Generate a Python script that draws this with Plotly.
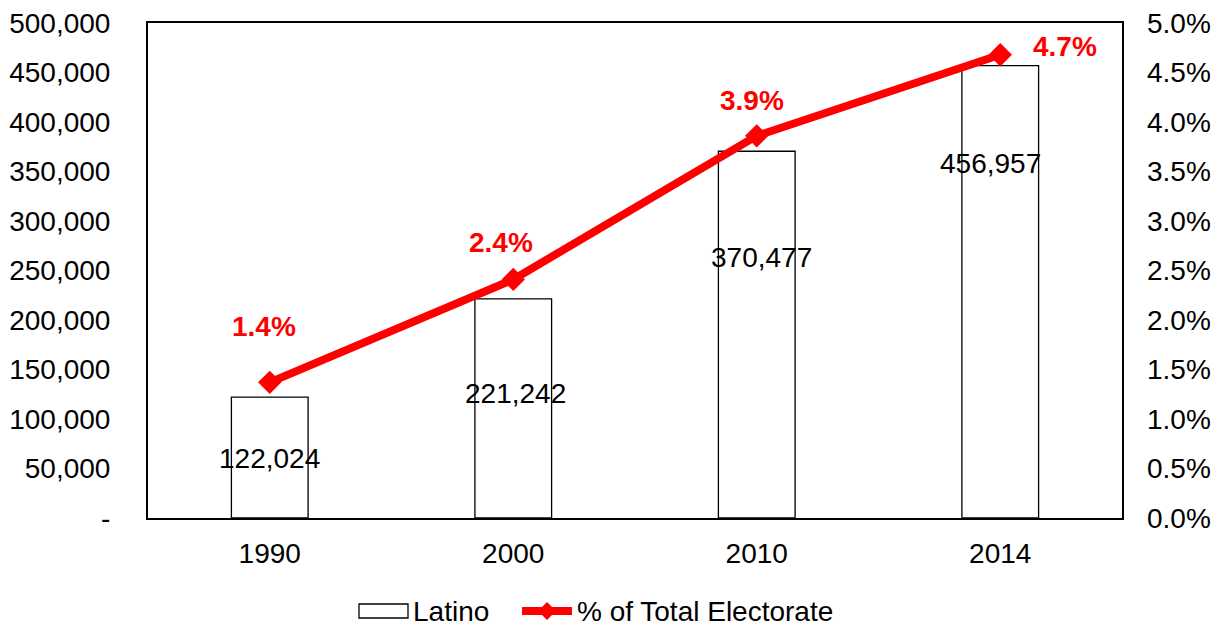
import plotly.graph_objects as go

years = ["1990", "2000", "2010", "2014"]
latino = [122024, 221242, 370477, 456957]
pct = [1.37, 2.41, 3.86, 4.68]
pct_labels = ["1.4%", "2.4%", "3.9%", "4.7%"]
bar_labels = ["122,024", "221,242", "370,477", "456,957"]
bar_label_y = [60500, 126000, 263000, 358000]
bar_label_dx = [0, 2, 5, -10]
pct_label_shift = [(-6, 56), (-12, 37), (-5, 35), (65, 8)]

FONT = "Liberation Sans, Arial, sans-serif"
W, H = 1225, 627
L, R, T, B = 148, W - 1122, 23, H - 518


def px(xp):
    return (xp - L) / (W - L - R)


def py(yp):
    return (H - B - yp) / (H - T - B)


fig = go.Figure()
fig.add_trace(go.Bar(
    x=years, y=latino, name="Latino",
    marker=dict(color="white", line=dict(color="black", width=1.3)),
    width=0.315, showlegend=False, hoverinfo="skip",
))
fig.add_trace(go.Scatter(
    x=years, y=pct, name="% of Total Electorate", yaxis="y2",
    mode="lines+markers",
    line=dict(color="#ff0000", width=8),
    marker=dict(symbol="diamond", size=18, color="#ff0000"),
    showlegend=False, hoverinfo="skip",
))

for i, (lab, ly, dx) in enumerate(zip(bar_labels, bar_label_y, bar_label_dx)):
    fig.add_annotation(x=i, y=ly, text=lab, showarrow=False, xshift=dx,
                       font=dict(size=28, color="black", family=FONT))
for i, (lab, v, (dx, dy)) in enumerate(zip(pct_labels, pct, pct_label_shift)):
    fig.add_annotation(x=i, y=v, yref="y2", text="<b>" + lab + "</b>", showarrow=False,
                       xshift=dx, yshift=dy,
                       font=dict(size=28, color="#ff0000", family=FONT))

# custom legend
ly = 611
fig.add_shape(type="rect", xref="paper", yref="paper",
              x0=px(359), x1=px(408), y0=py(604), y1=py(618),
              line=dict(color="black", width=1.3), fillcolor="white")
fig.add_annotation(xref="paper", yref="paper", x=px(411), y=py(ly), text="Latino",
                   showarrow=False, xanchor="left", yanchor="middle",
                   font=dict(size=28, color="black", family=FONT))
fig.add_shape(type="line", xref="paper", yref="paper",
              x0=px(522), x1=px(572), y0=py(ly), y1=py(ly),
              line=dict(color="#ff0000", width=8))
d = 9
fig.add_shape(type="path", xref="paper", yref="paper",
              path=f"M {px(547-d)},{py(ly)} L {px(547)},{py(ly-d)} L {px(547+d)},{py(ly)} L {px(547)},{py(ly+d)} Z",
              line=dict(color="#ff0000", width=0), fillcolor="#ff0000")
fig.add_annotation(xref="paper", yref="paper", x=px(575), y=py(ly), text="% of Total Electorate",
                   showarrow=False, xanchor="left", yanchor="middle",
                   font=dict(size=28, color="black", family=FONT))

fig.update_layout(
    width=W, height=H,
    paper_bgcolor="white", plot_bgcolor="white",
    margin=dict(l=L, r=R, t=T, b=B),
    font=dict(family=FONT, size=28, color="black"),
    showlegend=False,
    xaxis=dict(type="category", range=[-0.5, 3.5], showgrid=False, showline=True,
               linecolor="black", linewidth=2,
               mirror=True, ticks="", tickfont=dict(size=28), ticklabelstandoff=9,
               automargin=False),
    yaxis=dict(range=[0, 500000], tickvals=[0, 50000, 100000, 150000, 200000, 250000,
                                            300000, 350000, 400000, 450000, 500000],
               ticktext=["-", "50,000", "100,000", "150,000", "200,000", "250,000",
                         "300,000", "350,000", "400,000", "450,000", "500,000"],
               showgrid=False, showline=True, linecolor="black", linewidth=2,
               mirror=True, ticks="", tickfont=dict(size=28), ticklabelstandoff=30,
               automargin=False),
    yaxis2=dict(range=[0, 5], overlaying="y", side="right",
                tickvals=[0, 0.5, 1, 1.5, 2, 2.5, 3, 3.5, 4, 4.5, 5],
                ticktext=["0.0%", "0.5%", "1.0%", "1.5%", "2.0%", "2.5%", "3.0%",
                          "3.5%", "4.0%", "4.5%", "5.0%"],
                showgrid=False, showline=False, ticks="", tickfont=dict(size=28),
                ticklabelstandoff=24, automargin=False),
)

fig.write_html("out.html", config={"displayModeBar": False},
               post_script="document.body.style.margin='0px';")
